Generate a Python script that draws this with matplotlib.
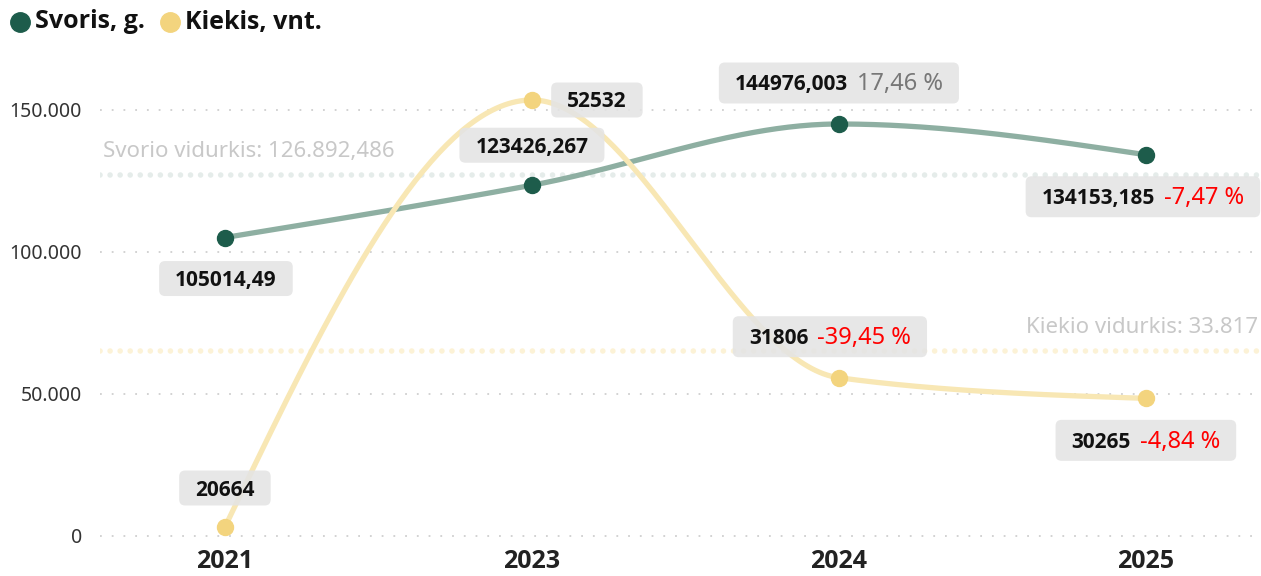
import numpy as np
import matplotlib.pyplot as plt
from matplotlib.patches import FancyBboxPatch
from matplotlib.lines import Line2D
from matplotlib.transforms import IdentityTransform, blended_transform_factory
from matplotlib import font_manager

# ---- data ----
years = ['2021', '2023', '2024', '2025']
svoris = [105014.49, 123426.267, 144976.003, 134153.185]
kiekis = [20664, 52532, 31806, 30265]
y_ticks = [0, 50000, 100000, 150000]
y_tick_labels = ['0', '50.000', '100.000', '150.000']

GREEN = '#1d5c4b'
GREEN_LINE = '#8eafa2'
YELLOW = '#f3d47e'
YELLOW_LINE = '#f8e7b4'
RED = '#ff0000'
GRAY_PCT = '#777777'

plt.rcParams['font.family'] = ['Noto Sans', 'DejaVu Sans']

# bold face: take the first family that really has a bold file
BOLD = ['DejaVu Sans']
for fam in ['Noto Sans', 'Open Sans', 'Lato', 'Roboto']:
    f = font_manager.findfont(font_manager.FontProperties(family=fam, weight='bold'))
    if 'bold' in f.lower():
        BOLD = [fam, 'DejaVu Sans']
        break


def monotone_x(y, n=80):
    """monotone cubic curve (d3 curveMonotoneX) through equally spaced points"""
    y = np.asarray(y, float)
    d = np.diff(y)
    m = np.zeros_like(y)
    for k in range(1, len(y) - 1):
        s0, s1 = d[k - 1], d[k]
        p = (s0 + s1) / 2
        m[k] = (np.sign(s0) + np.sign(s1)) * min(abs(s0), abs(s1), 0.5 * abs(p))
    m[0] = (3 * d[0] - m[1]) / 2
    m[-1] = (3 * d[-1] - m[-2]) / 2
    xs, ys = [], []
    t = np.linspace(0, 1, n)
    for k in range(len(y) - 1):
        h00 = 2 * t**3 - 3 * t**2 + 1
        h10 = t**3 - 2 * t**2 + t
        h01 = -2 * t**3 + 3 * t**2
        h11 = t**3 - t**2
        ys.append(h00 * y[k] + h10 * m[k] + h01 * y[k + 1] + h11 * m[k + 1])
        xs.append(k + t)
    return np.concatenate(xs), np.concatenate(ys)


W, H = 1261, 576
fig = plt.figure(figsize=(W / 100, H / 100), dpi=100)
ax = fig.add_axes([100 / W, 31 / H, 1161 / W, 485 / H])
ax2 = ax.twinx()

x = np.arange(len(years))

ax.set_xlim(-0.407, 3.375)
ax.set_ylim(-3200, 167500)
ax2.set_ylim(19321, 55517)

for a in (ax, ax2):
    for s in a.spines.values():
        s.set_visible(False)
    a.tick_params(length=0)
ax2.set_yticks([])

ax.set_yticks(y_ticks, y_tick_labels)
ax.tick_params(axis='y', labelsize=14, labelcolor='#333333', pad=13)
ax.set_xticks(x, years)
ax.tick_params(axis='x', labelsize=18, labelcolor='#222222', pad=3)
for lbl in ax.get_xticklabels():
    lbl.set_fontweight('bold')
    lbl.set_family(BOLD)

# grid dots
for yt in y_ticks:
    ax.axhline(yt, color='#cfcfcf', lw=1.3, ls=(0, (1, 5.5)), zorder=0)

# average lines
sv_mean = np.mean(svoris)
ki_mean = np.mean(kiekis)
ax.axhline(sv_mean, color='#e5ecea', lw=4, ls=(0, (0.01, 1.8)),
           dash_capstyle='round', zorder=1)
ax2.axhline(ki_mean, color='#fcf2d6', lw=4, ls=(0, (0.01, 1.8)),
            dash_capstyle='round', zorder=1)

sv_txt = 'Svorio vidurkis: ' + f'{sv_mean:,.3f}'.replace(',', ' ').replace('.', ',').replace(' ', '.')
ki_txt = 'Kiekio vidurkis: ' + f'{ki_mean:,.0f}'.replace(',', '.')
ax.annotate(sv_txt, xy=(0, sv_mean), xycoords=blended_transform_factory(ax.transAxes, ax.transData),
            xytext=(2, 17), textcoords='offset points', va='center', ha='left',
            fontsize=16, color='#c8c8c8')
ax2.annotate(ki_txt, xy=(1, ki_mean), xycoords=blended_transform_factory(ax2.transAxes, ax2.transData),
             xytext=(-2, 17), textcoords='offset points', va='center', ha='right',
             fontsize=16, color='#c8c8c8')

# series
gx, gy = monotone_x(svoris)
ax.plot(gx, gy, color=GREEN_LINE, lw=3.8, solid_capstyle='round', zorder=3)
ax.plot(x, svoris, 'o', color=GREEN, ms=11.5, zorder=4)

yx, yy = monotone_x(kiekis)
ax2.plot(yx, yy, color=YELLOW_LINE, lw=3.8, solid_capstyle='round', zorder=3)
ax2.plot(x, kiekis, 'o', color=YELLOW, ms=11.5, zorder=4)


def fmt_val(v):
    s = f'{v:.3f}'.rstrip('0').rstrip('.')
    return s.replace('.', ',')


def pct_changes(vals):
    out = [None, None]
    for i in range(2, len(vals)):
        out.append((vals[i] / vals[i - 1] - 1) * 100)
    return out


fig.canvas.draw()
renderer = fig.canvas.get_renderer()
ident = IdentityTransform()


def value_label(a, xv, yv, val, pct, dx, dy):
    px, py = a.transData.transform((xv, yv))
    cx, cy = px + dx, py + dy
    base = cy - 7.5
    parts = [fig.text(0, base, val, transform=ident, fontsize=15, fontweight='bold',
                      family=BOLD, color='#111111', va='baseline', ha='left', zorder=11)]
    if pct is not None:
        s = f'{pct:.2f}'.replace('.', ',') + ' %'
        parts.append(fig.text(0, base, s, transform=ident, fontsize=17,
                              color=RED if pct < 0 else GRAY_PCT,
                              va='baseline', ha='left', zorder=11))
    widths = [p.get_window_extent(renderer).width for p in parts]
    gap = 9
    total = sum(widths) + gap * (len(parts) - 1)
    x0 = cx - total / 2
    for p, w in zip(parts, widths):
        p.set_position((x0, base))
        x0 += w + gap
    padx = 16
    h = 41 if pct is not None else 35
    box = FancyBboxPatch((cx - total / 2 - padx, cy - h / 2), total + 2 * padx, h,
                         boxstyle='round,pad=0,rounding_size=6', transform=ident,
                         fc='#e4e4e4', ec='none', alpha=0.88, zorder=10)
    fig.add_artist(box)


# offsets in pixels (label centre relative to point)
green_off = [(1, -41), (0, 40), (0, 41), (-3, -42)]
yellow_off = [(0, 39), (65, 0), (-9, 41), (0, -42)]

sv_pct = pct_changes(svoris)
ki_pct = pct_changes(kiekis)
for i in range(len(years)):
    value_label(ax, x[i], svoris[i], fmt_val(svoris[i]), sv_pct[i], *green_off[i])
    value_label(ax2, x[i], kiekis[i], fmt_val(kiekis[i]), ki_pct[i], *yellow_off[i])

# legend
fig.add_artist(Line2D([20], [H - 22], marker='o', color=GREEN, ms=14, transform=ident))
fig.text(35, H - 22, 'Svoris, g.', transform=ident, fontsize=18, fontweight='bold',
         family=BOLD, color='#111111', va='center', ha='left')
fig.add_artist(Line2D([170], [H - 22], marker='o', color=YELLOW, ms=14, transform=ident))
fig.text(185, H - 22, 'Kiekis, vnt.', transform=ident, fontsize=18, fontweight='bold',
         family=BOLD, color='#111111', va='center', ha='left')

fig.savefig('out.png', dpi=100)
